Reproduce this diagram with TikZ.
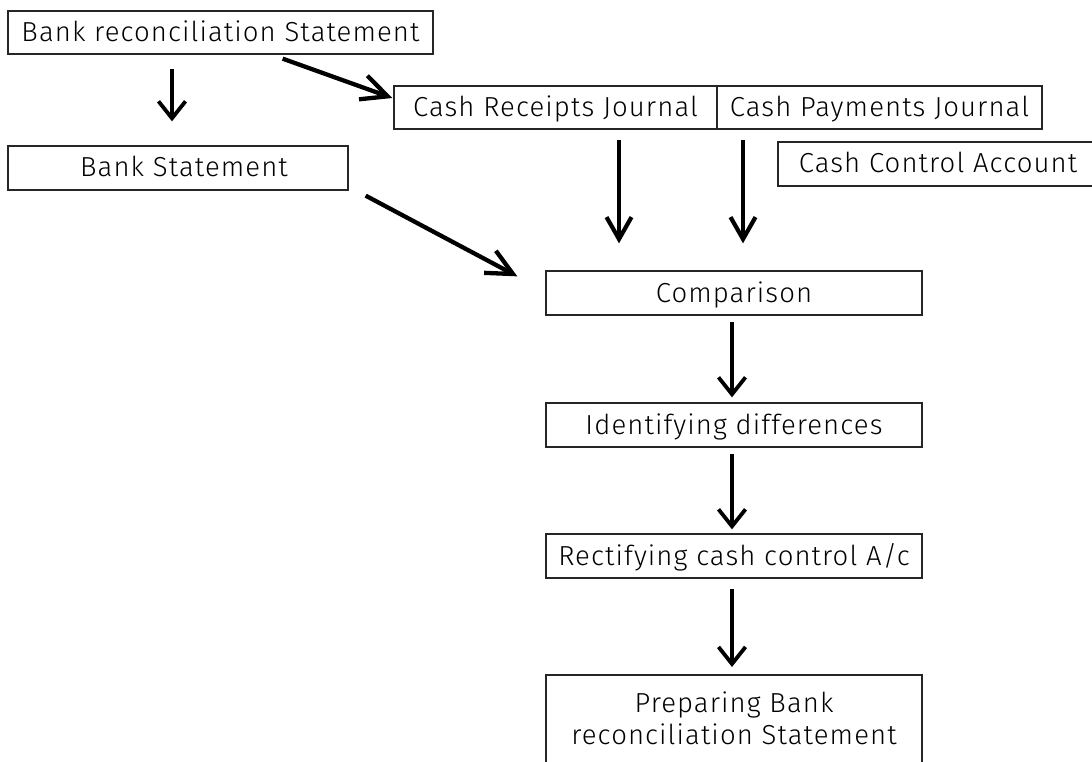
\documentclass[tikz,border=0pt]{standalone}
\usepackage{fontspec}
\setmainfont{Fira Sans}[UprightFont=* Light, LetterSpace=4]
\usetikzlibrary{arrows.meta}
\begin{document}
\begin{tikzpicture}[x=1pt,y=-1pt,
  box/.style={draw=black!85, line width=1.3pt, inner sep=0pt, text height=24pt, text depth=6pt, font=\fontsize{27.5}{32}\selectfont},
  txt/.style={inner sep=0pt, font=\fontsize{27.5}{32}\selectfont, align=center},
  arr/.style={line width=3.8pt, -{Straight Barb[length=17pt,width=27pt,line width=3.8pt]}},
  darr/.style={line width=4.3pt, -{Straight Barb[length=26pt,width=25pt,line width=4.3pt]}},
  jarr/.style={line width=4.2pt, -{Straight Barb[length=22pt,width=25pt,line width=4.2pt]}},
  edge/.style={draw=black!85, line width=1.3pt}
]
\useasboundingbox (0,0) rectangle (1092,762);

\node[box, minimum width=425pt, minimum height=43pt] (brs) at (220.5,32.5) {Bank reconciliation Statement};
\node[box, minimum width=340pt, minimum height=44pt] (bs) at (178,168) {\hspace{12pt}Bank Statement};
\node[box, minimum width=323pt, minimum height=43pt] (crj) at (555.5,107.5) {Cash Receipts Journal};
\node[box, minimum width=325pt, minimum height=43pt] (cpj) at (879.5,107.5) {Cash Payments Journal};
\node[txt, text height=24pt, text depth=6pt] (cca) at (938,164) {Cash Control Account};
\draw[edge, line width=2pt] (1100,142) -| (778,186) -- (1100,186);

\node[box, minimum width=376pt, minimum height=44pt] (cmp) at (734,293) {Comparison};
\node[box, minimum width=376pt, minimum height=44pt] (idf) at (734,425) {Identifying differences};
\node[box, minimum width=376pt, minimum height=44pt] (rcc) at (734,556) {Rectifying cash control A/c};
\coordinate (pbrtop) at (734,675);
\node[txt] (pbr) at (734,718) {Preparing Bank\\reconciliation Statement};
\draw[edge] (546,770) |- (922,675) -- (922,770);

\draw[arr] ([xshift=-48.5pt,yshift=-14pt]brs.south) -- ([xshift=-6pt,yshift=24pt]bs.north);
\draw[darr] ([xshift=-151pt,yshift=-4pt]brs.south east) -- ([xshift=-1pt,yshift=9.5pt]crj.west);
\draw[darr] ([xshift=17pt,yshift=-5pt]bs.south east) -- ([xshift=-28pt,yshift=-6pt]cmp.north west);
\draw[jarr] ([xshift=63.5pt,yshift=-10pt]crj.south) -- ([xshift=-115pt,yshift=27pt]cmp.north);
\draw[jarr] ([xshift=-136.5pt,yshift=-10pt]cpj.south) -- ([xshift=9pt,yshift=27pt]cmp.north);
\draw[arr] ([xshift=-2pt,yshift=-6pt]cmp.south) -- ([xshift=-2pt,yshift=5pt]idf.north);
\draw[arr] ([xshift=-2pt,yshift=-6pt]idf.south) -- ([xshift=-2pt,yshift=4pt]rcc.north);
\draw[arr] ([xshift=-2pt,yshift=-10pt]rcc.south) -- ([xshift=-2pt,yshift=8pt]pbrtop);
\end{tikzpicture}
\end{document}
